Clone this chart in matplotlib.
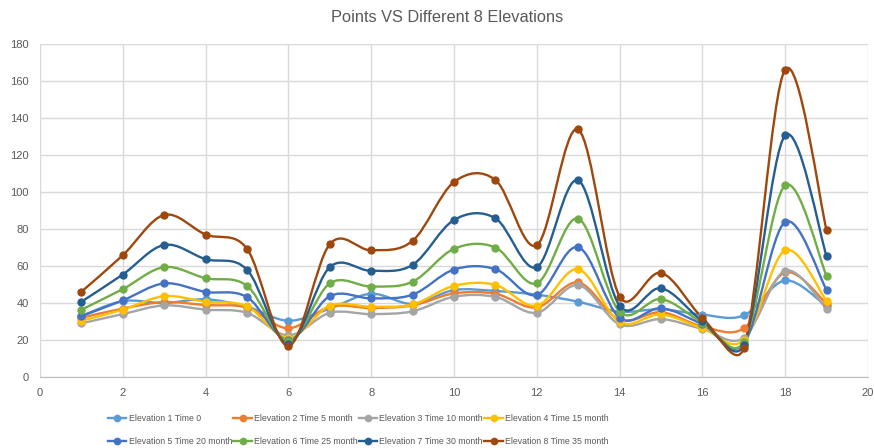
import matplotlib.pyplot as plt
import numpy as np
from matplotlib.path import Path
from matplotlib.patches import PathPatch
from matplotlib.lines import Line2D

plt.rcParams['font.family'] = ['Liberation Sans', 'DejaVu Sans']

# Points 1..19 for each elevation / time step
points = list(range(1, 20))

elev1 = [33.0, 41.0, 40.0, 42.0, 38.0, 30.4, 37.0, 45.0, 39.5, 47.0, 46.5, 44.5, 40.7, 35.3, 36.6, 33.7, 33.3, 52.2, 38.2]
elev2 = [32.0, 37.0, 40.5, 38.9, 37.5, 26.3, 38.0, 37.3, 38.7, 45.2, 45.0, 37.6, 51.1, 30.9, 35.0, 27.4, 26.3, 56.5, 39.7]
elev3 = [29.0, 34.0, 38.7, 36.4, 34.7, 22.5, 34.7, 34.0, 35.5, 43.4, 43.3, 34.7, 49.7, 28.4, 31.3, 26.0, 21.2, 57.4, 36.9]
elev4 = [30.4, 36.4, 43.7, 40.7, 38.2, 21.0, 38.5, 38.0, 39.2, 49.3, 49.8, 38.5, 58.3, 29.7, 33.8, 26.4, 20.0, 68.5, 41.0]
elev5 = [32.9, 41.4, 50.6, 46.0, 43.2, 20.0, 43.7, 42.5, 44.5, 58.1, 58.3, 44.3, 70.2, 32.0, 37.2, 28.5, 18.0, 83.8, 47.0]
elev6 = [36.4, 47.5, 59.4, 53.4, 49.3, 19.5, 50.6, 48.9, 51.5, 69.3, 70.0, 50.6, 85.6, 35.3, 42.1, 29.4, 19.0, 103.6, 54.5]
elev7 = [40.7, 55.4, 71.4, 63.7, 58.0, 18.0, 59.4, 57.4, 60.6, 84.9, 85.8, 59.4, 106.3, 38.5, 48.0, 30.3, 17.5, 130.6, 65.3]
elev8 = [46.1, 65.8, 87.6, 77.0, 69.3, 16.7, 71.8, 68.5, 73.6, 105.4, 106.5, 71.2, 133.8, 43.5, 56.3, 32.0, 15.8, 166.2, 79.3]

series = [elev1, elev2, elev3, elev4, elev5, elev6, elev7, elev8]
labels = ['Elevation 1 Time 0', 'Elevation 2 Time 5 month', 'Elevation 3 Time 10 month',
          'Elevation 4 Time 15 month', 'Elevation 5 Time 20 month', 'Elevation 6 Time 25 month',
          'Elevation 7 Time 30 month', 'Elevation 8 Time 35 month']
colors = ['#5B9BD5', '#ED7D31', '#A5A5A5', '#FFC000', '#4472C4', '#70AD47', '#255E91', '#9E480E']

TEXT = '#595959'
GRID = '#D9D9D9'


def smooth_path(ax, xs, ys):
    # Bezier smoothing in screen space, tangents limited on short segments
    pts = ax.transData.transform(np.column_stack([xs, ys]))
    n = len(pts)
    verts = [pts[0]]
    codes = [Path.MOVETO]
    for i in range(n - 1):
        p0 = pts[max(i - 1, 0)]
        p1 = pts[i]
        p2 = pts[i + 1]
        p3 = pts[min(i + 2, n - 1)]
        d12 = np.hypot(*(p2 - p1))
        d02 = np.hypot(*(p2 - p0))
        d13 = np.hypot(*(p3 - p1))
        f = 1 / 6
        g = 1 / 6
        if d02 / 6 >= d12 / 2 and d02 > 0:
            f = d12 / d02 / 2
        if d13 / 6 >= d12 / 2 and d13 > 0:
            g = d12 / d13 / 2
        verts += [p1 + (p2 - p0) * f, p2 - (p3 - p1) * g, p2]
        codes += [Path.CURVE4] * 3
    verts = ax.transData.inverted().transform(np.array(verts))
    return Path(verts, codes)


fig = plt.figure(figsize=(8.74, 4.48), dpi=100)
ax = fig.add_axes([40 / 874, 1 - 377 / 448, 828 / 874, 333 / 448])
ax.set_xlim(0, 20)
ax.set_ylim(0, 180)
ax.set_xticks(range(0, 21, 2))
ax.set_yticks(range(0, 181, 20))
ax.grid(True, color=GRID, linewidth=1)
ax.set_axisbelow(True)
for side in ['top', 'right', 'left']:
    ax.spines[side].set_visible(False)
ax.spines['bottom'].set_color('#BFBFBF')
ax.tick_params(length=0, colors=TEXT, labelsize=8)
ax.tick_params(axis='x', pad=8)
ax.tick_params(axis='y', pad=8)

handles = []
for ys, lab, col in zip(series, labels, colors):
    patch = PathPatch(smooth_path(ax, points, ys), facecolor='none', edgecolor=col,
                      linewidth=1.7, capstyle='round', joinstyle='round')
    ax.add_patch(patch)
    ax.plot(points, ys, linestyle='none', marker='o', markersize=5, color=col)
    handles.append(Line2D([], [], color=col, linewidth=1.7, marker='o', markersize=4.5))

fig.text(447 / 874, 1 - 17 / 448, 'Points VS Different 8 Elevations', ha='center', va='center',
         fontsize=11.8, color=TEXT)

# legend fills column by column, so reorder to read row by row
order = [0, 4, 1, 5, 2, 6, 3, 7]
fig.legend([handles[i] for i in order], [labels[i] for i in order], ncol=4,
           loc='center left', bbox_to_anchor=(108 / 874, 1 - 430 / 448), frameon=False,
           fontsize=6.3, labelcolor=TEXT, handlelength=2.1, handletextpad=0.25,
           columnspacing=0.15, labelspacing=1.5, borderpad=0, borderaxespad=0)

fig.savefig('out.png', dpi=100)
